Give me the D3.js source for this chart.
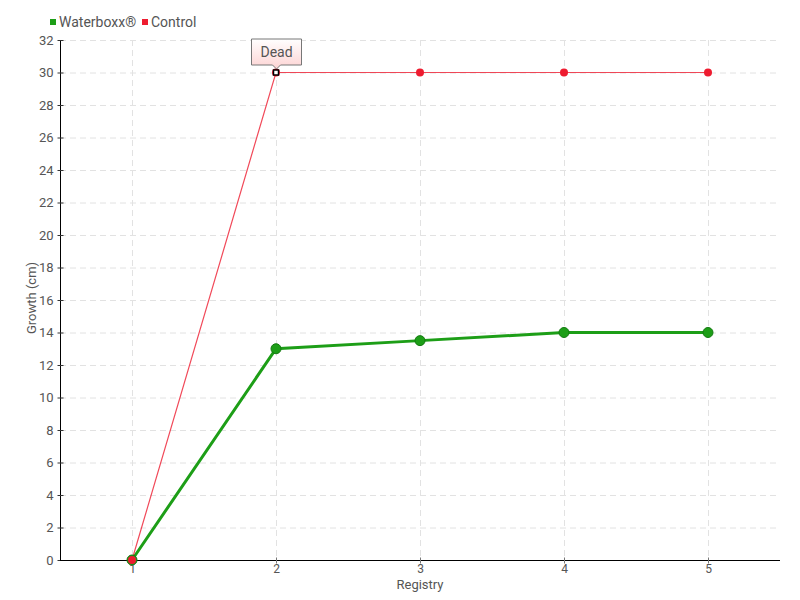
<!DOCTYPE html>
<html>
<head>
<meta charset="utf-8">
<script src="https://cdn.jsdelivr.net/npm/d3@7"></script>
<style>
  body { margin: 0; background: #fff; }
  svg text { font-family: Roboto, "Liberation Sans Narrow", sans-serif; fill: #555; }
</style>
</head>
<body>
<svg id="chart" width="800" height="600"></svg>
<script>
var registry = [1, 2, 3, 4, 5];
var waterboxx = [0, 13, 13.5, 14, 14];
var control = [0, 30, 30, 30, 30];
var yTicks = d3.range(0, 33, 2);
var seriesNames = ["Waterboxx®", "Control"];
var seriesColors = ["#1d9e17", "#ee1c30"];
var deadNote = { x: 2, label: "Dead" };

var margin = {top: 40, right: 20, bottom: 40, left: 60};
var width = 800 - margin.left - margin.right;
var height = 600 - margin.top - margin.bottom;

var svg = d3.select("#chart");
var g = svg.append("g")
    .attr("transform", "translate(" + margin.left + "," + margin.top + ")");

var xScale = d3.scaleLinear().domain([0.5, 5.5]).range([0, width]);
var yScale = d3.scaleLinear().domain([0, 32]).range([height, 0]);

// grid
g.selectAll(".hgrid")
    .data(yTicks.filter(function(d) { return d > 0; }))
    .enter().append("line")
    .attr("x1", 0).attr("x2", width)
    .attr("y1", function(d) { return yScale(d) + 0.5; })
    .attr("y2", function(d) { return yScale(d) + 0.5; })
    .style("stroke", "#e2e2e2").style("stroke-dasharray", "6,4");

g.selectAll(".vgrid")
    .data(registry)
    .enter().append("line")
    .attr("x1", function(d) { return xScale(d) + 0.5; })
    .attr("x2", function(d) { return xScale(d) + 0.5; })
    .attr("y1", 0).attr("y2", height)
    .style("stroke", "#e2e2e2").style("stroke-dasharray", "6,4");

// axes
var yAxis = g.append("g")
    .attr("transform", "translate(0.5,0)")
    .call(d3.axisLeft(yScale).tickValues(yTicks).tickSize(3).tickPadding(4).tickFormat(d3.format("d")));
yAxis.select(".domain").attr("d", "M0,0V" + height).style("stroke", "#000");
yAxis.selectAll(".tick line").attr("x1", -3).attr("x2", 3).style("stroke", "#333");
yAxis.selectAll(".tick text").style("font-size", "13px");

var xAxis = g.append("g")
    .attr("transform", "translate(0," + (height + 0.5) + ")")
    .call(d3.axisBottom(xScale).tickValues(registry).tickSize(3).tickPadding(1).tickFormat(d3.format("d")));
xAxis.select(".domain").attr("d", "M0,0H" + width).style("stroke", "#000");
xAxis.selectAll(".tick line").attr("y1", -3).attr("y2", 3).style("stroke", "#777");
xAxis.selectAll(".tick text").style("font-size", "12px");

// axis titles
g.append("text")
    .attr("x", width / 2).attr("y", height + 29)
    .attr("text-anchor", "middle").style("font-size", "13px")
    .text("Registry");

g.append("text")
    .attr("transform", "translate(-24," + (height / 2 - 2) + ") rotate(-90)")
    .attr("text-anchor", "middle").style("font-size", "13px")
    .text("Growth (cm)");

// lines
var line = d3.line()
    .x(function(d, i) { return xScale(registry[i]); })
    .y(function(d) { return yScale(d); });

g.append("path")
    .datum(waterboxx)
    .attr("d", line)
    .style("fill", "none").style("stroke", seriesColors[0]).style("stroke-width", 3);

g.append("path")
    .datum(control)
    .attr("d", line)
    .style("fill", "none").style("stroke", seriesColors[1]).style("stroke-width", 1.2).style("stroke-opacity", 0.8);

// points
g.selectAll(".wpt")
    .data(waterboxx)
    .enter().append("circle")
    .attr("cx", function(d, i) { return xScale(registry[i]); })
    .attr("cy", function(d) { return yScale(d); })
    .attr("r", 5)
    .style("fill", seriesColors[0]).style("stroke", "#137a10").style("stroke-width", 1);

g.selectAll(".cpt")
    .data(control)
    .enter().append("circle")
    .attr("cx", function(d, i) { return xScale(registry[i]); })
    .attr("cy", function(d) { return yScale(d); })
    .attr("r", 4)
    .style("fill", seriesColors[1]);

// dead marker
var di = registry.indexOf(deadNote.x);
var dx = xScale(deadNote.x), dy = yScale(control[di]);
g.append("rect")
    .attr("x", dx - 2.5).attr("y", dy - 2.5)
    .attr("width", 5).attr("height", 5)
    .style("fill", "#fff").style("stroke", "#000").style("stroke-width", 1.5);

// tooltip
var defs = svg.append("defs");
var grad = defs.append("linearGradient").attr("id", "tipGrad")
    .attr("x1", 0).attr("y1", 0).attr("x2", 0).attr("y2", 1);
grad.append("stop").attr("offset", "0%").attr("stop-color", "#ffffff");
grad.append("stop").attr("offset", "100%").attr("stop-color", "#fdd3d3");

var tw = 50, th = 26, ttop = dy - 34;
var tip = g.append("g");
tip.append("path")
    .attr("d", "M" + (dx - tw / 2 + 0.5) + "," + (ttop + 0.5) +
        "H" + (dx + tw / 2 + 0.5) + "V" + (ttop + th + 0.5) +
        "H" + (dx + 4.5) + "L" + (dx + 0.5) + "," + (ttop + th + 4.5) +
        "L" + (dx - 3.5) + "," + (ttop + th + 0.5) +
        "H" + (dx - tw / 2 + 0.5) + "Z")
    .style("fill", "url(#tipGrad)").style("stroke", "#777").style("stroke-width", 1);
tip.append("text")
    .attr("x", dx + 0.5).attr("y", ttop + 18)
    .attr("text-anchor", "middle").style("font-size", "14px")
    .text(deadNote.label);

// legend
var legend = svg.append("g").attr("transform", "translate(50,22)");
var lx = [0, 92];
seriesNames.forEach(function(name, i) {
    legend.append("rect")
        .attr("x", lx[i]).attr("y", -3).attr("width", 6).attr("height", 6)
        .style("fill", seriesColors[i]);
    legend.append("text")
        .attr("x", lx[i] + 9).attr("y", 5)
        .style("font-size", "14px")
        .text(name);
});
</script>
</body>
</html>
